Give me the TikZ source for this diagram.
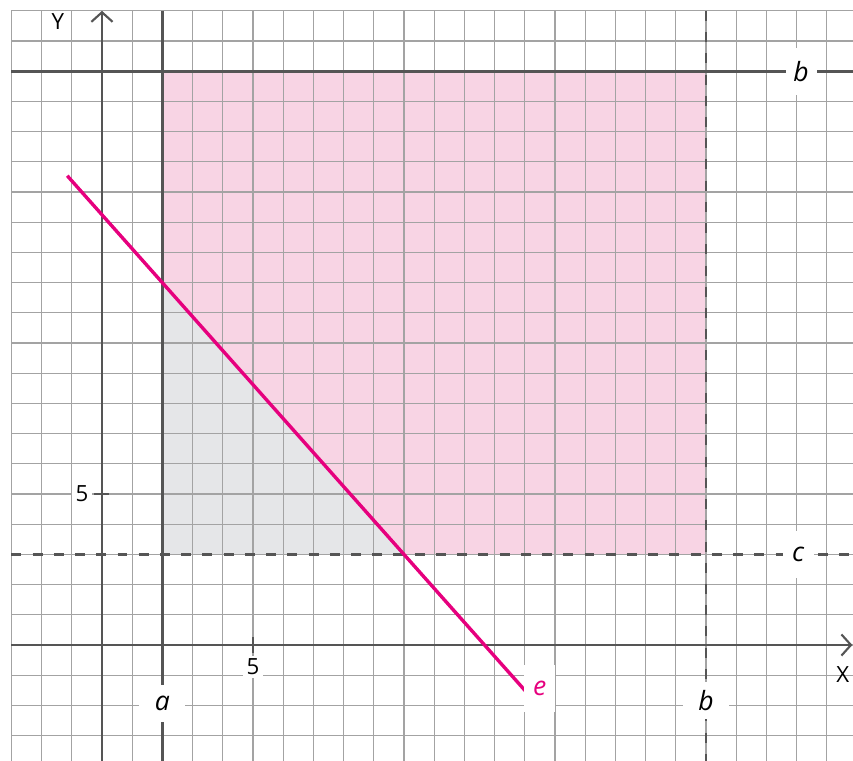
\documentclass[tikz,border=0pt]{standalone}
\usepackage{fontspec}
\setmainfont{Open Sans}
\usetikzlibrary{arrows.meta}
\definecolor{gridline}{HTML}{A3A3A3}
\definecolor{axisline}{HTML}{555555}
\definecolor{regionpink}{HTML}{F8D4E4}
\definecolor{regiongray}{HTML}{E5E6E8}
\definecolor{linee}{HTML}{E6007E}
\tikzset{
    gridlines/.style={
        draw=gridline, line width=0.55pt
    },
    axis/.style={
        draw=axisline, line width=1.3pt,
        -{Straight Barb[length=4.5pt, width=10pt, line width=1pt]}
    },
    boundary/.style={
        draw=axisline, line width=1.2pt
    },
    dashedboundary/.style={
        draw=axisline, line width=1.2pt, dash pattern=on 4.7pt off 5.3pt
    },
    constraint/.style={
        draw=linee, line width=1.6pt
    },
    linelabel/.style={
        fill=white, inner sep=0pt, minimum width=14.6pt, minimum height=22pt,
        font=\fontsize{12.5}{14}\selectfont\itshape
    },
    bottomlabel/.style={
        minimum width=21.7pt, minimum height=17.5pt
    },
    ticklabel/.style={
        fill=white, inner sep=1.5pt, font=\fontsize{10.5}{12}\selectfont
    },
    axislabel/.style={
        inner sep=0pt, font=\fontsize{10.5}{12}\selectfont
    }
}
\begin{document}
\begin{tikzpicture}[x=0.5cm, y=0.5cm]

    \useasboundingbox (-3.377,-3.84) rectangle (24.87,21.36);
    \clip (-3.377,-3.84) rectangle (24.87,21.36);

    % regions
    \fill[regionpink] (2,12) -- (2,19) -- (20,19) -- (20,3) -- (10,3) -- cycle;
    \fill[regiongray] (2,3) -- (2,12) -- (10,3) -- cycle;

    \draw[gridlines, step=1] (-3,-4) grid (25,21);

    % boundaries
    \draw[boundary] (2,21) -- (2,-4);
    \draw[boundary] (-3,19) -- (25,19);
    \draw[dashedboundary] (20,21) -- (20,-4);
    \draw[dashedboundary] (-3,3) -- (25,3);

    % axes
    \draw[axis] (-3,0) -- (24.85,0);
    \draw[axis] (0,-3.9) -- (0,21);
    \draw[draw=axisline, line width=1pt] (5,0.26) -- (5,-0.26);
    \draw[draw=axisline, line width=1pt] (-0.26,5) -- (0.23,5);

    \draw[constraint] (-1.15,15.54) -- (14.1,-1.61);

    \node[ticklabel]               (tickX)  at (5,-0.73)     {5};
    \node[ticklabel]               (tickY)  at (-0.66,5)     {5};
    \node[axislabel]               (labelX) at (24.53,-0.99) {X};
    \node[axislabel]               (labelY) at (-1.46,20.63) {Y};

    \node[linelabel, bottomlabel]  (lblA)   at (2,-1.93)     {a};
    \node[linelabel, bottomlabel]  (lblBx)  at (20,-1.85)    {b};
    \node[linelabel]               (lblBy)  at (23.15,19)    {b};
    \node[linelabel]               (lblC)   at (23.05,3)     {c};
    \node[linelabel, text=linee]   (lblE)   at (14.5,-1.45)  {e};

\end{tikzpicture}
\end{document}
